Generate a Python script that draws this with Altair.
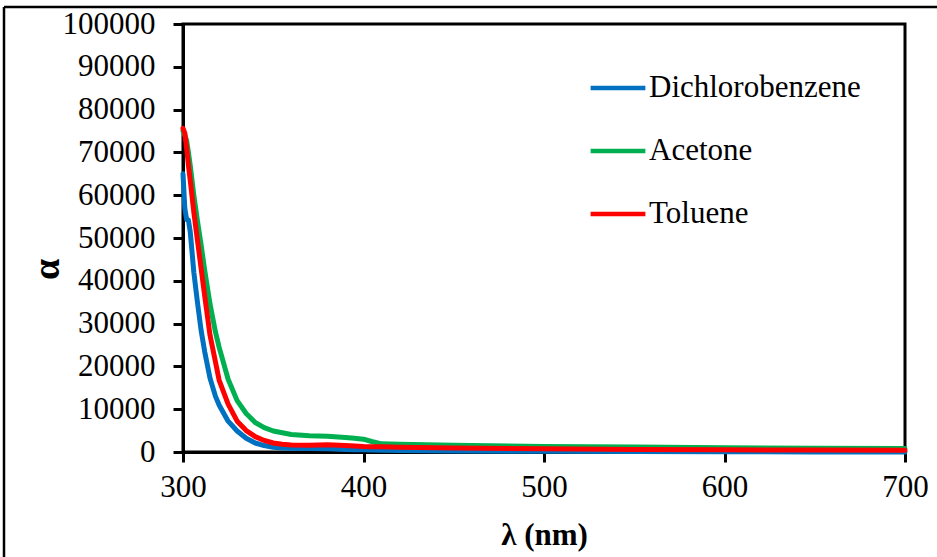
import altair as alt
import pandas as pd

# Absorption coefficient spectra of the film in three solvents
wavelength = [300, 301, 302, 303, 304, 306, 308, 310, 312, 315, 318, 320, 325, 330,
              335, 340, 345, 350, 355, 360, 370, 380, 390, 395, 400, 405, 410, 420,
              450, 500, 550, 600, 650, 700]

dichlorobenzene = [65000, 57000, 54300, 54200, 51500, 42000, 35000, 28500, 23500, 17200,
                   13000, 11000, 7200, 4900, 3200, 2100, 1500, 1100, 950, 850, 800, 750,
                   600, 550, 500, 450, 400, 350, 250, 150, 100, 50, 20, 0]

acetone = [75000, 74000, 72800, 70000, 67000, 60000, 54000, 48500, 42500, 34500, 28000,
           24500, 17000, 12000, 9000, 6900, 5700, 4900, 4500, 4100, 3800, 3700, 3400,
           3200, 3000, 2400, 1900, 1800, 1600, 1300, 1150, 1000, 900, 800]

toluene = [75600, 74500, 71000, 67000, 63500, 56000, 49500, 43000, 36500, 27200, 21000,
           16800, 11200, 7200, 5000, 3600, 2700, 2100, 1800, 1650, 1600, 1700, 1500,
           1400, 1300, 1250, 1200, 1100, 950, 750, 600, 500, 450, 400]

solvents = ["Dichlorobenzene", "Acetone", "Toluene"]
colors = ["#0070C0", "#00B050", "#FF0000"]

x_ticks = [300, 400, 500, 600, 700]
y_ticks = list(range(0, 100001, 10000))

rows = []
for name, series in zip(solvents, [dichlorobenzene, acetone, toluene]):
    for w, a in zip(wavelength, series):
        rows.append({"wavelength": w, "alpha": a, "solvent": name})
df = pd.DataFrame(rows)

FONT = "Liberation Serif"
SIZE = 31

lines = alt.Chart(df).mark_line(strokeWidth=5, strokeCap="round", strokeJoin="round").encode(
    x=alt.X("wavelength:Q",
            scale=alt.Scale(domain=[300, 700], nice=False, zero=False),
            axis=alt.Axis(values=x_ticks, title="λ (nm)", labelPadding=10,
                          labelFlush=False, titlePadding=18)),
    y=alt.Y("alpha:Q",
            scale=alt.Scale(domain=[0, 100000], nice=False),
            axis=alt.Axis(values=y_ticks, format="d", title="α", labelPadding=18,
                          labelFlush=False, titleFontSize=38,
                          titleAngle=270, titleX=-136, titleY=245,
                          titleAlign="center", titleBaseline="middle")),
    color=alt.Color("solvent:N",
                    scale=alt.Scale(domain=solvents, range=colors),
                    legend=alt.Legend(title=None, orient="none", legendX=405, legendY=34,
                                      symbolType="stroke", symbolSize=3000,
                                      symbolStrokeWidth=4.5, rowPadding=18,
                                      labelOffset=1, labelFont=FONT, labelFontSize=SIZE,
                                      labelColor="black", labelLimit=400, padding=0)),
)

# Outer frame around the figure
frame = alt.Chart(alt.Data(values=[{}])).mark_rule(color="black", strokeWidth=2.5).encode(
    x=alt.value(-179), x2=alt.value(-179), y=alt.value(-17), y2=alt.value(540)
) + alt.Chart(alt.Data(values=[{}])).mark_rule(color="black", strokeWidth=2.5).encode(
    x=alt.value(-179), x2=alt.value(760), y=alt.value(-17), y2=alt.value(-17)
)

chart = alt.layer(lines, frame).properties(
    width=722, height=428,
    autosize=alt.AutoSizeParams(type="none"),
    padding={"left": 183, "top": 24, "right": 32, "bottom": 105},
    background="white",
).configure_view(
    stroke="black", strokeWidth=3
).configure_axis(
    grid=False, domainColor="black", domainWidth=3, tickColor="black", tickWidth=3,
    tickSize=10, labelFont=FONT, labelFontSize=SIZE, labelColor="black",
    titleFont=FONT, titleFontSize=SIZE, titleFontWeight="bold", titleColor="black",
)

chart.save("out.html", embed_options={"renderer": "svg", "actions": False})
